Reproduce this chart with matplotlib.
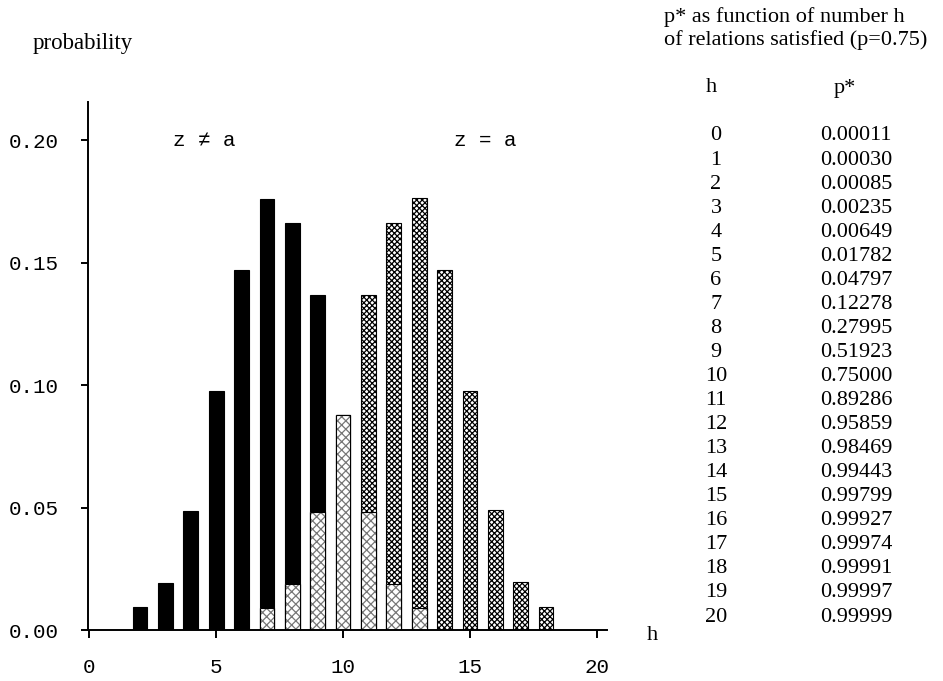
import numpy as np
import matplotlib
matplotlib.use("Agg")
import matplotlib.pyplot as plt

# probabilities, h = 0..20
h = np.arange(21)
prob_ne = [0, 0, 0.0094, 0.0193, 0.0486, 0.0978, 0.147, 0.176, 0.1664, 0.137,
           0.088, 0.0485, 0.019, 0.0092, 0, 0, 0, 0, 0, 0, 0]
prob_eq = [0, 0, 0, 0, 0, 0, 0, 0.0092, 0.019, 0.0485,
           0.088, 0.137, 0.1664, 0.1767, 0.147, 0.0978, 0.049, 0.0196, 0.0094, 0, 0]

table_h = [str(i) for i in range(21)]
table_p = ["0.00011", "0.00030", "0.00085", "0.00235", "0.00649", "0.01782",
           "0.04797", "0.12278", "0.27995", "0.51923", "0.75000", "0.89286",
           "0.95859", "0.98469", "0.99443", "0.99799", "0.99927", "0.99974",
           "0.99991", "0.99997", "0.99999"]

mono = ["Liberation Mono", "DejaVu Sans Mono"]
serif = ["Liberation Serif", "DejaVu Serif"]

plt.rcParams["hatch.linewidth"] = 0.9

fig = plt.figure(figsize=(9.43, 6.81), dpi=100)
ax = fig.add_axes([0.0933, 0.0742, 0.5504, 0.776])

ne = np.array(prob_ne)
eq = np.array(prob_eq)
overlap = np.minimum(ne, eq)
w = 0.58

ax.bar(h, ne, width=w, color="black", edgecolor="black", linewidth=0.8)
ax.bar(h[eq > 0], eq[eq > 0], width=w, facecolor="white", edgecolor="black",
       hatch="xxxxxx", linewidth=0.8)
m = overlap > 0
ax.bar(h[m], overlap[m], width=w, facecolor="white", edgecolor="#777777",
       hatch="xxxx", linewidth=0)
ax.bar(h[m], overlap[m], width=w, fill=False, edgecolor="black", linewidth=0.8)

ax.set_xlim(-0.05, 20.4)
ax.set_ylim(0, 0.2157)
ax.set_xticks([0, 5, 10, 15, 20])
ax.set_yticks([0, 0.05, 0.10, 0.15, 0.20])
ax.set_yticklabels(["0.00", "0.05", "0.10", "0.15", "0.20"])
for s in ["top", "right"]:
    ax.spines[s].set_visible(False)
for s in ["left", "bottom"]:
    ax.spines[s].set_linewidth(1.4)
ax.tick_params(axis="both", direction="out", width=1.4)
ax.tick_params(axis="y", length=5.3, pad=16)
ax.tick_params(axis="x", length=6, pad=14)
for lab in ax.get_xticklabels() + ax.get_yticklabels():
    lab.set_fontfamily(mono)
    lab.set_fontsize(15)

ax.text(4.55, 0.2, "z \u2260 a", family=mono, fontsize=15, ha="center", va="center")
ax.text(15.62, 0.2, "z = a", family=mono, fontsize=15, ha="center", va="center")

fig.text(33 / 943, 1 - 43 / 681, "probability", family=serif, fontsize=16.5,
         ha="left", va="center")
fig.text(652 / 943, 1 - 635 / 681, "h", family=serif, fontsize=16,
         ha="center", va="center")

fig.text(664 / 943, 1 - 17 / 681, "p* as function of number h",
         family=serif, fontsize=16, ha="left", va="center")
fig.text(664 / 943, 1 - 40 / 681, "of relations satisfied (p=0.75)",
         family=serif, fontsize=16, ha="left", va="center")

fig.text(711 / 943, 1 - 88 / 681, "h", family=serif, fontsize=16, ha="center", va="center")
fig.text(845 / 943, 1 - 88 / 681, "p*", family=serif, fontsize=16, ha="center", va="center")
row0 = 136
dy = 24.05
for i, (a, b) in enumerate(zip(table_h, table_p)):
    y = 1 - (row0 + i * dy) / 681
    fig.text(716 / 943, y, a, family=serif, fontsize=16, ha="center", va="center")
    fig.text(820 / 943, y, b, family=serif, fontsize=16, ha="left", va="center")

fig.savefig("out.png", dpi=100)
